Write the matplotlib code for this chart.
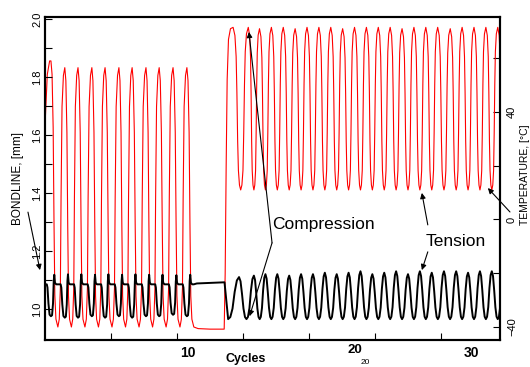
import numpy as np
import matplotlib.pyplot as plt

plt.rcParams['font.family'] = ['Liberation Sans', 'DejaVu Sans']

# --- values ---
# x unit: one axis tick step = 10
# temperature (red, right axis, degC)
red_lead_x = [0.0, 0.35, 0.7]
red_lead_y = [35, 54, 59]
red_c1 = [0.9, 3.0, 5.0, 7.1, 9.1, 11.2, 13.2, 15.3, 17.3, 19.4, 21.5]
red_p1 = [59, 56.5, 56.5, 56.5, 56.5, 56.5, 56.5, 56.5, 56.5, 56.5, 56.5]
red_low1 = -40.0
red_hold_x = [23.2, 25.0, 27.15]
red_hold_y = [-40.6, -40.8, -40.8]
red_rise_x = [27.3, 27.45, 27.6, 27.8, 28.1]
red_rise_y = [-20, 20, 52, 67, 71]
red_c2 = [28.5, 30.8, 32.5, 34.3, 36.1, 37.9, 39.7, 41.5, 43.3, 45.1, 46.9, 48.7,
          50.5, 52.3, 54.1, 55.9, 57.7, 59.5, 61.4, 63.2, 65.0, 66.8, 68.6]
red_p2 = [71.5, 71.5, 71.0, 71.5, 71.5, 71.0, 71.5, 71.5, 71.5, 71.0, 71.5, 71.5,
          71.5, 71.5, 71.0, 71.5, 71.5, 71.5, 71.0, 71.5, 71.5, 71.5, 71.5]
red_low2 = 11.0

# bondline (black, left axis, mm)
blk_d1 = [0.975, 0.97, 0.97, 0.975, 0.97, 0.975, 0.97, 0.975, 0.975, 0.98, 0.975]
blk_plateau = 1.085
blk_hold_x = [23.0, 25.0, 27.2]
blk_hold_y = [1.088, 1.09, 1.092]
blk_c2 = [29.4, 31.65, 33.4, 35.2, 37.0, 38.8, 40.6, 42.4, 44.2, 46.0, 47.8, 49.6,
          51.4, 53.2, 55.0, 56.8, 58.6, 60.45, 62.3, 64.1, 65.9, 67.7, 69.5]
blk_p2 = [1.11, 1.115, 1.12, 1.12, 1.115, 1.12, 1.12, 1.125, 1.12, 1.125, 1.13, 1.12,
          1.125, 1.13, 1.12, 1.13, 1.125, 1.13, 1.13, 1.125, 1.13, 1.13, 1.13]
blk_low2 = 0.965

# shape of one cycle (phase, fraction of swing)
red1_ph = [-0.5, -0.4, -0.32, -0.27, -0.2, -0.1, 0.0, 0.08, 0.16, 0.22, 0.28, 0.36, 0.5]
red1_fr = [0.0, 0.03, 0.15, 0.5, 0.85, 0.97, 1.0, 0.95, 0.75, 0.4, 0.12, 0.03, 0.0]
red2_ph = [-0.5, -0.42, -0.35, -0.3, -0.25, -0.2, -0.12, 0.0, 0.12, 0.2, 0.25, 0.3, 0.35, 0.42, 0.5]
red2_fr = [0.0, 0.03, 0.12, 0.35, 0.65, 0.85, 0.96, 1.0, 0.95, 0.82, 0.6, 0.3, 0.12, 0.03, 0.0]
blk1_ph = [-0.5, -0.3, -0.25, -0.18, -0.1, 0.0, 0.08, 0.15, 0.2, 0.24, 0.29, 0.38, 0.5]
blk1_fr = [0.0, 0.0, 0.1, 0.6, 0.95, 1.0, 0.97, 0.6, -0.1, -0.3, -0.05, 0.0, 0.0]
blk2_ph = [-0.5, -0.4, -0.3, -0.2, -0.1, 0.0, 0.1, 0.2, 0.3, 0.4, 0.5]
blk2_fr = [0.0, 0.05, 0.25, 0.65, 0.92, 1.0, 0.9, 0.6, 0.25, 0.05, 0.0]


def cycles(centres, levels, base, ph, fr, skip_first_left=False, first_left=None):
    xs, ys = [], []
    n = len(centres)
    for i in range(n):
        c = centres[i]
        right = (centres[i + 1] - c) / 2 if i < n - 1 else (c - centres[i - 1]) / 2
        if i > 0:
            left = (c - centres[i - 1]) / 2
        else:
            left = first_left if first_left is not None else right
        for p, f in zip(ph, fr):
            if i == 0 and skip_first_left and p < 0:
                continue
            xs.append(c + p * 2 * (left if p < 0 else right))
            ys.append(base + f * (levels[i] - base))
    return xs, ys


x1, y1 = cycles(red_c1, red_p1, red_low1, red1_ph, red1_fr, skip_first_left=True)
x2, y2 = cycles(red_c2, red_p2, red_low2, red2_ph, red2_fr, skip_first_left=True)
red_x = red_lead_x + x1 + red_hold_x + red_rise_x + x2
red_y = red_lead_y + y1 + red_hold_y + red_rise_y + y2

bx1, by1 = cycles(red_c1, blk_d1, blk_plateau, blk1_ph, blk1_fr)
bx2, by2 = cycles(blk_c2, blk_p2, blk_low2, blk2_ph, blk2_fr, first_left=1.65)
blk_x = bx1 + blk_hold_x + bx2
blk_y = by1 + blk_hold_y + by2

fig = plt.figure(figsize=(5.3, 3.67), dpi=100)
ax = fig.add_axes([45 / 530, 27 / 367, 455 / 530, 323 / 367])
ax2 = ax.twinx()
ax.set_zorder(ax2.get_zorder() + 1)
ax.patch.set_visible(False)

ax2.plot(red_x, red_y, color='#ff0000', lw=0.8)
ax.plot(blk_x, blk_y, color='black', lw=1.4)

ax.set_xlim(0, 68.94)
ax.set_ylim(0.893, 2.007)
ax2.set_ylim(-44.84, 75.35)

ax.set_xticks([10, 20, 30, 40, 50, 60])
ax.set_xticklabels([])
ax.set_yticks([1.0, 1.2, 1.4, 1.6, 1.8, 2.0])
ax.set_yticklabels(['1.0', '1.2', '1.4', '1.6', '1.8', '2.0'])
ax.set_yticks([1.1, 1.3, 1.5, 1.7, 1.9], minor=True)
ax2.set_yticks([-40, 0, 40])
ax2.set_yticklabels(['\u221240', '0', '40'])
ax2.set_yticks([-20, 20, 60], minor=True)

for a in (ax, ax2):
    a.tick_params(which='both', direction='in', length=5, width=0.8)
    for s in a.spines.values():
        s.set_linewidth(1.5)
ax.tick_params(axis='y', which='both', labelsize=8, pad=2)
ax2.tick_params(axis='y', which='both', labelsize=8, pad=5)
for t in ax.get_yticklabels():
    t.set_rotation(90)
    t.set_va('center')
for t in ax2.get_yticklabels():
    t.set_rotation(90)
    t.set_va('center')

fig.text(18 / 530, 1 - 178 / 367, 'BONDLINE, [mm]', rotation=90, ha='center', va='center', fontsize=8.5)
fig.text(525 / 530, 1 - 175 / 367, 'TEMPERATURE, [\u00b0C]', rotation=90, ha='center', va='center', fontsize=7.5)

# x labels as printed on the scan
fig.text(188 / 530, 1 - 353 / 367, '10', ha='center', va='center', fontsize=10, fontweight='bold')
fig.text(355 / 530, 1 - 349.8 / 367, '20', ha='center', va='center', fontsize=9.5, fontweight='bold')
fig.text(471 / 530, 1 - 353 / 367, '30', ha='center', va='center', fontsize=10, fontweight='bold')
fig.text(246 / 530, 1 - 359 / 367, 'Cycles', ha='center', va='center', fontsize=9, fontweight='bold')
fig.text(365 / 530, 1 - 362.4 / 367, '20', ha='center', va='center', fontsize=6)

arr = dict(arrowstyle='-|>', lw=0.8, color='black', mutation_scale=8, shrinkA=0, shrinkB=0)

ax.text(34.4, 1.293, 'Compression', ha='left', va='center', fontsize=12.5)
ax.annotate('', xy=(30.9, 69.8), xycoords=ax2.transData, xytext=(34.4, 1.228),
            textcoords=ax.transData, arrowprops=arr)
ax.annotate('', xy=(31.0, 0.975), xytext=(34.4, 1.228), arrowprops=arr)

ax.text(57.6, 1.234, 'Tension', ha='left', va='center', fontsize=12.5)
ax.annotate('', xy=(57.1, 9.9), xycoords=ax2.transData, xytext=(58.0, 1.29),
            textcoords=ax.transData, arrowprops=arr)
ax.annotate('', xy=(57.1, 1.134), xytext=(58.0, 1.197), arrowprops=arr)

ax.annotate('', xy=(67.1, 11.7), xycoords=ax2.transData, xytext=(70.45, 2.8),
            textcoords=ax2.transData, arrowprops=arr, annotation_clip=False)
ax.annotate('', xy=(-0.76, 1.134), xytext=(-2.58, 1.334), arrowprops=arr,
            annotation_clip=False)

fig.savefig('out.png', dpi=100)
